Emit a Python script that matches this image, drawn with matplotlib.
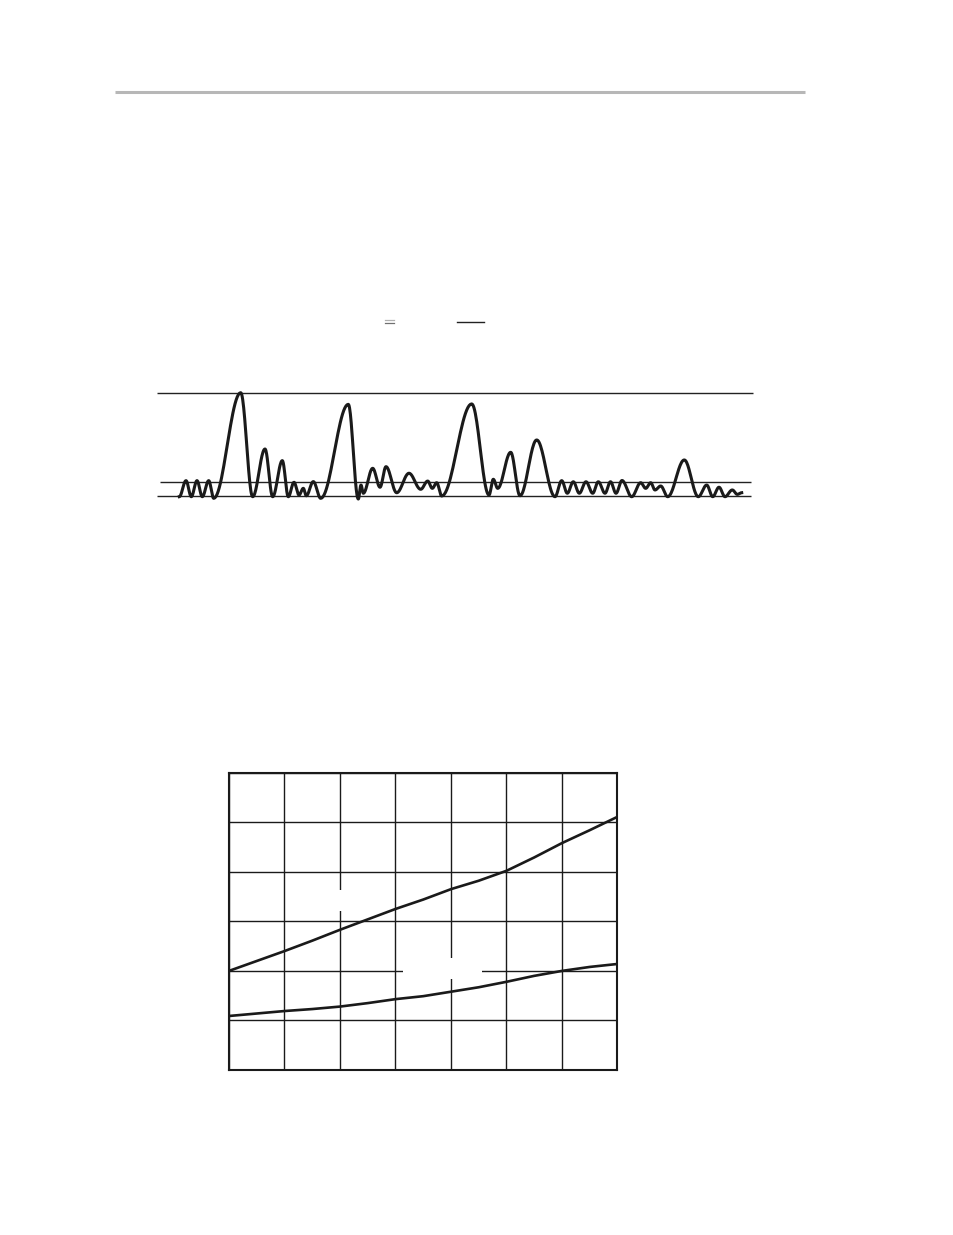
import numpy as np
import matplotlib
matplotlib.use('Agg')
import matplotlib.pyplot as plt
from matplotlib.patches import Rectangle

W, H = 954, 1235

# %% waveform: extrema (time, amplitude; threshold line = 1)
wave_t = [2.23, 2.90, 3.43, 4.00, 4.53, 5.17, 5.67, 8.37, 9.57, 10.80, 11.57, 12.53,
          13.13, 13.70, 14.20, 14.63, 14.93, 15.63, 16.37, 19.13, 20.13, 20.40, 20.63,
          21.57, 22.30, 22.90, 23.97, 25.20, 26.37, 27.07, 27.53, 27.97, 28.47, 31.47,
          33.20, 33.63, 34.07, 35.37, 36.30, 37.97, 39.80, 40.47, 41.03, 41.63, 42.23,
          42.90, 43.57, 44.13, 44.80, 45.35, 45.90, 46.50, 47.47, 48.37, 48.87, 49.37,
          49.80, 50.37, 51.07, 52.73, 54.13, 54.97, 55.57, 56.20, 56.80, 57.53, 58.03,
          58.47]
wave_a = [-0.05, 1.12, -0.05, 1.12, -0.05, 1.12, -0.17, 7.54, -0.05, 3.43, -0.05, 2.58,
          -0.05, 1.00, 0.07, 0.56, 0.02, 1.05, -0.17, 6.69, -0.22, 0.80, 0.20,
          2.02, 0.64, 2.14, 0.24, 1.66, 0.49, 1.09, 0.56, 0.97, 0.00, 6.72,
          0.07, 1.22, 0.56, 3.19, 0.02, 4.09, -0.05, 1.12, 0.20, 1.04, 0.20,
          1.04, 0.20, 1.04, 0.20, 1.04, 0.20, 1.13, -0.05, 0.97, 0.56, 0.97,
          0.44, 0.73, -0.05, 2.63, -0.05, 0.80, -0.05, 0.64, -0.05, 0.44, 0.12,
          0.24]
wave_levels = [0.0, 1.0, 7.5]

# %% lower chart: two curves on a 7 x 6 grid
chart_x = [0, 0.5, 1, 1.5, 2, 2.5, 3, 3.5, 4, 4.5, 5, 5.5, 6, 6.5, 7]
upper_y = [2.00, 2.20, 2.40, 2.61, 2.83, 3.04, 3.25, 3.44, 3.65, 3.82, 4.02, 4.29,
           4.58, 4.84, 5.11]
lower_y = [1.09, 1.14, 1.19, 1.23, 1.28, 1.35, 1.43, 1.49, 1.58, 1.67, 1.78, 1.90,
           2.00, 2.08, 2.14]


def px_axes(fig, x0, y0, x1, y1):
    return fig.add_axes([x0 / W, 1 - y1 / H, (x1 - x0) / W, (y1 - y0) / H])


def smooth_extrema(t, a, n=24):
    # join successive extrema with half-cosine segments
    ts, ys = [], []
    for i in range(len(t) - 1):
        s = np.linspace(0, 1, n, endpoint=False)
        ts.append(t[i] + (t[i + 1] - t[i]) * s)
        ys.append(a[i] + (a[i + 1] - a[i]) * (1 - np.cos(np.pi * s)) / 2)
    ts.append([t[-1]])
    ys.append([a[-1]])
    return np.concatenate(ts), np.concatenate(ys)


fg = plt.figure(figsize=(W / 100, H / 100), dpi=100)

# %% page decorations
axp = px_axes(fg, 0, 0, W, H)
axp.set_xlim(0, W)
axp.set_ylim(H, 0)
axp.axis('off')
axp.plot([115, 805], [92, 92], color='#b7b7b7', lw=2.2, solid_capstyle='butt')
axp.plot([385, 394], [319.5, 319.5], color='#b0b0b0', lw=0.9)
axp.plot([385, 394], [322.5, 322.5], color='#707070', lw=0.9)
axp.plot([457, 484], [322.3, 322.3], color='#222222', lw=1.0)

# %% waveform
axw = px_axes(fg, 150, 385, 760, 505)
axw.set_xlim(-0.7, 60.3)
axw.set_ylim((496 - 505) / 13.7, (496 - 385) / 13.7)
axw.axis('off')
axw.hlines(wave_levels[0], -0.03, 59.37, color='#222222', lw=1.0)
axw.hlines(wave_levels[1], 0.30, 59.37, color='#222222', lw=1.0)
axw.hlines(wave_levels[2], -0.03, 59.57, color='#222222', lw=1.0)
tt, aa = smooth_extrema(wave_t, wave_a)
axw.plot(tt, aa, color='#1a1a1a', lw=2.2, solid_joinstyle='round')

# %% chart
ax = px_axes(fg, 229, 772.7, 617.5, 1070)
ax.set_xlim(0, 7)
ax.set_ylim(0, 6)
ax.set_xticks(range(8))
ax.set_yticks(range(7))
ax.tick_params(length=0, labelbottom=False, labelleft=False)
ax.grid(True, color='#1a1a1a', lw=1.0)
for sp in ax.spines.values():
    sp.set_linewidth(1.5)
    sp.set_color('#1a1a1a')
# white label backgrounds that break the grid
ax.add_patch(Rectangle((1.28, 3.21), 1.44, 0.42, facecolor='white', edgecolor='none', zorder=1.8))
ax.add_patch(Rectangle((3.135, 1.84), 1.425, 0.42, facecolor='white', edgecolor='none', zorder=1.8))
ax.plot(chart_x, upper_y, color='#1a1a1a', lw=1.9, zorder=3)
ax.plot(chart_x, lower_y, color='#1a1a1a', lw=1.9, zorder=3)

fg.savefig('out.png', dpi=100)
